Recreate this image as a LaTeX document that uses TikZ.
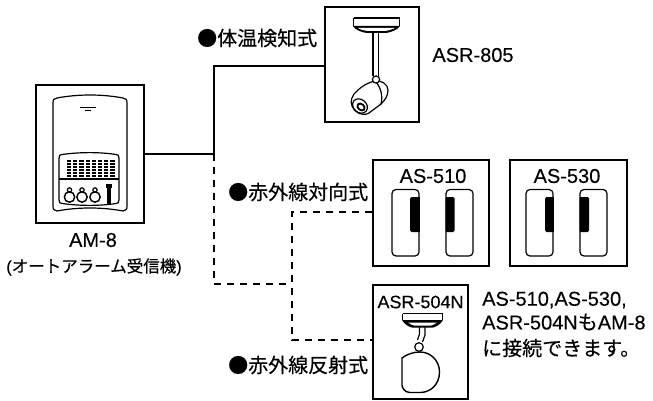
\documentclass[tikz,border=0pt]{standalone}
\usepackage{fontspec}
\setmainfont[FakeBold=0.25]{Liberation Sans}
\newfontfamily\jpfont[FakeBold=0.35]{Noto Sans CJK JP}
\tikzset{
  box/.style={draw=black,line width=1.7pt,fill=white,inner sep=0pt},
  wire/.style={line width=1.6pt,black},
  dwire/.style={line width=1.6pt,black,dash pattern=on 7pt off 6pt},
  ln/.style={line width=1.2pt,black},
  lbl/.style={inner sep=0pt,font=\fontsize{20}{24}\selectfont,text=black},
  jlbl/.style={inner sep=0pt,anchor=west,font=\fontsize{20}{24}\selectfont\jpfont,text=black},
}
\begin{document}
\begin{tikzpicture}[x=1pt,y=-1pt]
\useasboundingbox (0,0) rectangle (653,401);
% boxes
\node[box,minimum width=108pt,minimum height=138pt] (am) at (90,154) {};
\node[box,minimum width=94pt,minimum height=115pt] (cam) at (372,64.5) {};
\node[box,minimum width=116pt,minimum height=106pt] (as510) at (431,213) {};
\node[box,minimum width=117pt,minimum height=106pt] (as530) at (568.5,213) {};
\node[box,minimum width=95pt,minimum height=114pt] (asr) at (420.5,342) {};
% junctions
\coordinate (j0) at (214,154);
\coordinate (j1) at (214,66);
\coordinate (j2) at (214,284);
\coordinate (j3) at (292,284);
\coordinate (j4) at (292,212);
\coordinate (j5) at (292,340);
% connectors
\draw[wire] (am.east |- j0) -- (j0) -- (j1) -- (cam.west |- j1);
\draw[dwire] (j0) -- (j2) -- (j3);
\draw[dwire] (as510.west |- j4) -- (j4) -- (j3) -- (j5) -- (asr.west |- j5);
% AM-8 device
\draw[ln] (53,103) .. controls (53,99) and (54,99) .. (57,98) .. controls (78,94) and (102,94) .. (123,98) .. controls (126,99) and (127,99) .. (127,103)
  -- (127,206) .. controls (127,210) and (126,210) .. (123,211) .. controls (102,207) and (78,207) .. (57,211) .. controls (54,210) and (53,210) .. (53,206) -- cycle;
\draw[ln] (59,158) .. controls (59,155) and (60,155) .. (62,154.5) .. controls (80,152) and (100,152) .. (116,154.5) .. controls (118,155) and (119,155) .. (119,158)
  -- (119,200) .. controls (119,203) and (118,203) .. (116,203.5) .. controls (100,206) and (80,206) .. (62,203.5) .. controls (60,203) and (59,203) .. (59,200) -- cycle;
\draw[ln] (59,179) -- (119,179);
\draw[line width=1pt] (80,108) -- (96,108);
\draw[line width=1.2pt] (85,110.5) -- (91,110.5);
\foreach \c in {0,...,7}{\foreach \r in {0,...,5}{
  \fill[black] ({67+\c*6.2},{160.3+\r*3}) rectangle ++(4.2,1.9);
}}
\foreach \c in {69.5,82,95}{
  \draw[line width=1.4pt] (\c,197) circle[radius=5.2pt];
  \draw[line width=1.2pt] (\c,190) circle[radius=2.2pt];
}
\fill[black] (105.5,184) rectangle (111.5,187.5);
\fill[black] (107,187.5) rectangle (110.5,204);
% camera ASR-805
\draw[line width=1.7pt] (353.5,18) -- (399.5,18);
\draw[ln] (353.5,18) -- (353.5,26) (399.5,18) -- (399.5,26);
\fill[black] (353,26) -- (400,26) .. controls (398,30) and (390,32.5) .. (386,33) -- (367,33) .. controls (362,32.5) and (355,30) .. (353,26) -- cycle;
\fill[white] (358,28) -- (395,28) .. controls (392,29.5) and (388,30.5) .. (385,31) -- (368,31) .. controls (364,30.5) and (360,29.5) .. (358,28) -- cycle;
\draw[ln] (373,33) -- (373,76);
\draw[ln] (378.5,33) -- (378.5,76);
\draw[ln] (357,91) .. controls (363,85) and (370,82) .. (375,81) .. controls (381,80) and (388,84) .. (388,90) .. controls (388,96) and (385,100) .. (381,104) -- (369,113) .. controls (362,117) and (354,112) .. (352,106) .. controls (350,101) and (352,95) .. (357,91) -- cycle;
\draw[ln] (375,81) .. controls (381,87) and (383,96) .. (381,104);
\draw[ln,fill=white] (376,79.5) circle[radius=3.6pt];
\draw[ln,rotate around={-40:(360,106)}] (360,106) ellipse[x radius=8pt,y radius=6.5pt];
\draw[line width=1.8pt,rotate around={-40:(361,107)}] (361,107) ellipse[x radius=4pt,y radius=3pt];
% sensors
\foreach \x/\b in {392/410,526/545}{
  \draw[ln,rounded corners=4pt] (\x,189.5) rectangle (\x+27,256);
  \fill[black,rounded corners=1.5pt] (\b,197) rectangle (\x+27.5,232);
  \fill[black] (\x+24,197) rectangle (\x+27.5,232);
}
\foreach \x/\b in {446/454.5,580/589}{
  \draw[ln,rounded corners=4pt] (\x,189.5) rectangle (\x+27,256);
  \fill[black,rounded corners=1.5pt] (\x-0.5,197) rectangle (\b,232);
  \fill[black] (\x-0.5,197) rectangle (\x+3,232);
}
% ASR-504N icon
\draw[line width=1.7pt] (402.5,313.5) -- (442.5,313.5);
\draw[ln] (402.5,313.5) -- (402.5,320) (442.5,313.5) -- (442.5,320);
\fill[black] (402,320) -- (443,320) .. controls (441,324) and (436,327) .. (433,327.5) -- (412,327.5) .. controls (409,327) and (404,324) .. (402,320) -- cycle;
\fill[white] (408,322.5) -- (437,322.5) .. controls (435,324) and (433,325) .. (431,325.5) -- (414,325.5) .. controls (412,325) and (410,324) .. (408,322.5) -- cycle;
\draw[ln] (419.5,327) -- (419.5,334) -- (417.5,340);
\draw[ln] (425,327) -- (425,335) -- (422.5,342);
\draw[line width=1.4pt] (402,358) .. controls (407,354) and (414,352) .. (420,352) .. controls (431,352) and (439.5,361) .. (439.5,372) .. controls (439.5,384) and (431,392.5) .. (420,392.5) -- (410,392.5) .. controls (405,392.5) and (402,388) .. (402,385) -- cycle;
\draw[ln,fill=white] (419,347) circle[radius=4.3pt];
% labels
\node[lbl] at (93,240) {AM-8};
\node[inner sep=0pt,font=\fontsize{16.5}{20}\selectfont] at (94,267) {({\jpfont オートアラーム受信機})};
\node[jlbl] at (197,38) {●体温検知式};
\node[lbl] at (473,55) {ASR-805};
\node[lbl] at (433,176) {AS-510};
\node[lbl] at (567,176) {AS-530};
\node[jlbl] at (228,192) {●赤外線対向式};
\node[jlbl] at (228,365) {●赤外線反射式};
\node[lbl,font=\fontsize{18}{22}\selectfont] at (420.5,302) {ASR-504N};
\node[lbl,anchor=west] at (482,300) {AS-510,AS-530,};
\node[lbl,anchor=west] at (482,322) {ASR-504N{\jpfont も}AM-8};
\node[jlbl] at (482,348) {に接続できます。};
\end{tikzpicture}
\end{document}
